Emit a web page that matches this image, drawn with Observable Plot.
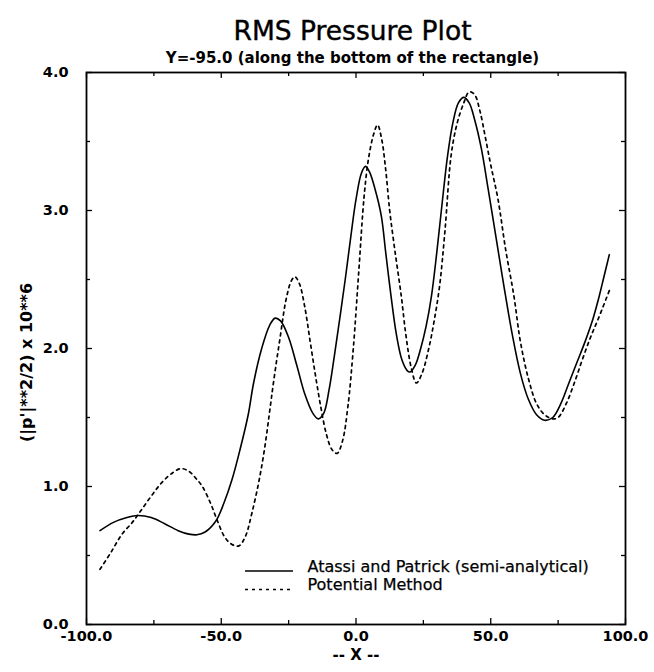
<!DOCTYPE html>
<html>
<head>
<meta charset="utf-8">
<script src="https://cdn.jsdelivr.net/npm/d3@7"></script>
<script src="https://cdn.jsdelivr.net/npm/@observablehq/plot@0.6"></script>
<style>
  body { margin: 0; background: #fff; }
  #chart svg { display: block; }
</style>
</head>
<body>
<div id="chart"></div>
<script>
// RMS pressure along Y = -95.0 (bottom edge of the rectangle)
const titleText = "RMS Pressure Plot";
const subtitleText = "Y=-95.0 (along the bottom of the rectangle)";
const xLabel = "-- X --";
const yLabel = "(|p'|**2/2) x 10**6";
const seriesNames = ["Atassi and Patrick (semi-analytical)", "Potential Method"];

// Atassi and Patrick (semi-analytical) — solid curve
const atassiX = [-95, -90, -85, -81, -76, -71, -66, -62, -59, -56, -52, -49, -46, -43, -40, -38, -35, -32, -30, -28, -25, -22, -19, -16, -14, -12, -10, -8, -6, -4, -2, 0, 2, 3.5, 5, 7, 9.4, 11, 13, 15, 17, 19, 20, 22, 24, 26, 28, 30, 32, 34, 36, 38, 40, 42, 44, 46.5, 49, 52, 54.9, 58, 61, 64, 67, 70, 73, 76, 79, 82, 85, 88, 90, 92, 94];
const atassiY = [0.68, 0.74, 0.775, 0.79, 0.775, 0.73, 0.68, 0.655, 0.65, 0.67, 0.75, 0.88, 1.05, 1.27, 1.52, 1.75, 2.0, 2.17, 2.22, 2.2, 2.08, 1.88, 1.67, 1.53, 1.49, 1.53, 1.7, 1.95, 2.22, 2.5, 2.8, 3.08, 3.27, 3.32, 3.28, 3.16, 2.96, 2.7, 2.38, 2.1, 1.92, 1.84, 1.83, 1.88, 2.0, 2.16, 2.38, 2.7, 3.06, 3.4, 3.64, 3.78, 3.82, 3.78, 3.66, 3.45, 3.16, 2.8, 2.45, 2.1, 1.82, 1.63, 1.52, 1.48, 1.5, 1.6, 1.75, 1.9, 2.05, 2.22, 2.36, 2.52, 2.68];

// Potential Method — dotted curve
const potentialX = [-95, -91, -87, -83, -80, -76, -72, -68, -65, -62, -59, -57, -54, -51.6, -48.6, -46, -43.4, -41, -38.6, -36, -33.8, -32, -30.5, -28, -26, -24, -22.7, -21, -19, -17, -15, -13, -11, -9, -7, -5, -3, -1, 1, 3, 4.6, 6.5, 8, 9.5, 11, 12.5, 14.5, 16.8, 18.5, 20.5, 22.4, 24.5, 27, 29, 31, 33, 35.3, 37.5, 40, 42, 44, 46, 48, 50, 52.7, 55.5, 58.6, 61, 64, 67, 70, 73, 75, 78, 81, 84, 87, 90, 94];
const potentialY = [0.40, 0.52, 0.65, 0.74, 0.82, 0.93, 1.03, 1.1, 1.13, 1.11, 1.05, 1.0, 0.88, 0.76, 0.63, 0.58, 0.57, 0.64, 0.81, 1.04, 1.29, 1.55, 1.77, 2.1, 2.35, 2.49, 2.52, 2.47, 2.3, 2.05, 1.8, 1.57, 1.38, 1.27, 1.24, 1.33, 1.58, 2.0, 2.55, 3.1, 3.37, 3.55, 3.62, 3.52, 3.3, 3.0, 2.7, 2.38, 2.1, 1.86, 1.75, 1.82, 2.0, 2.2, 2.45, 2.85, 3.4, 3.63, 3.78, 3.86, 3.84, 3.72, 3.53, 3.33, 3.08, 2.72, 2.38, 2.05, 1.78, 1.6, 1.52, 1.49, 1.5, 1.6, 1.75, 1.92, 2.08, 2.22, 2.42];

// Axis ticks
const xTicks = [-100, -50, 0, 50, 100];
const xMinorTicks = [-75, -25, 25, 75];
const yTicks = [0, 1, 2, 3, 4];
const yMinorTicks = [0.5, 1.5, 2.5, 3.5];

const atassi = atassiX.map((x, i) => ({x, y: atassiY[i]}));
const potential = potentialX.map((x, i) => ({x, y: potentialY[i]}));

const W = 654, H = 672;
const mL = 86, mR = 29, mT = 72, mB = 48;
const plotW = W - mL - mR, plotH = H - mT - mB;
const font = "'DejaVu Sans', sans-serif";
const dots = "3,4";
const majorLen = 6, minorLen = 4;
const legendRow1 = -53, legendRow2 = -34.5;

const chart = Plot.plot({
  width: W,
  height: H,
  marginLeft: mL,
  marginRight: mR,
  marginTop: mT,
  marginBottom: mB,
  style: {fontFamily: font, background: "#fff", color: "#000", overflow: "visible"},
  x: {domain: [-100, 100]},
  y: {domain: [0, 4]},
  marks: [
    // inward ticks on all four sides
    Plot.ruleX(xTicks, {x: d => d, insetTop: plotH - majorLen, stroke: "#000", strokeWidth: 1.3}),
    Plot.ruleX(xMinorTicks, {x: d => d, insetTop: plotH - minorLen, stroke: "#000", strokeWidth: 1.3}),
    Plot.ruleX(xTicks, {x: d => d, insetBottom: plotH - majorLen, stroke: "#000", strokeWidth: 1.3}),
    Plot.ruleX(xMinorTicks, {x: d => d, insetBottom: plotH - minorLen, stroke: "#000", strokeWidth: 1.3}),
    Plot.ruleY(yTicks, {y: d => d, insetRight: plotW - majorLen, stroke: "#000", strokeWidth: 1.3}),
    Plot.ruleY(yMinorTicks, {y: d => d, insetRight: plotW - minorLen, stroke: "#000", strokeWidth: 1.3}),
    Plot.ruleY(yTicks, {y: d => d, insetLeft: plotW - majorLen, stroke: "#000", strokeWidth: 1.3}),
    Plot.ruleY(yMinorTicks, {y: d => d, insetLeft: plotW - minorLen, stroke: "#000", strokeWidth: 1.3}),
    Plot.frame({stroke: "#000", strokeWidth: 1.8}),
    // tick labels
    Plot.axisX(xTicks, {tickSize: 0, tickPadding: 6, tickFormat: d => d.toFixed(1), fontSize: 14.5, fontWeight: "bold", label: null}),
    Plot.axisY(yTicks, {tickSize: 0, tickPadding: 18, tickFormat: d => d.toFixed(1), fontSize: 14.5, fontWeight: "bold", label: null}),
    // curves
    Plot.line(atassi, {x: "x", y: "y", curve: "catmull-rom", stroke: "#000", strokeWidth: 1.6}),
    Plot.line(potential, {x: "x", y: "y", curve: "catmull-rom", stroke: "#000", strokeWidth: 1.7, strokeDasharray: dots}),
    // titles and axis labels
    Plot.text([titleText], {text: d => d, frameAnchor: "top", dx: -3.5, dy: -51, fontSize: 26.5, fill: "#000", stroke: "#000", strokeWidth: 0.4}),
    Plot.text([subtitleText], {text: d => d, frameAnchor: "top", dx: -3.5, dy: -20, fontSize: 15, fontWeight: "bold", fill: "#000"}),
    Plot.text([xLabel], {text: d => d, frameAnchor: "bottom", dy: 35, fontSize: 15, fontWeight: "bold", fill: "#000"}),
    Plot.text([yLabel], {text: d => d, frameAnchor: "left", textAnchor: "middle", dx: -60, dy: 14, rotate: -90, fontSize: 16, fontWeight: "bold", fill: "#000"}),
    // legend labels
    Plot.text([seriesNames[0]], {text: d => d, frameAnchor: "bottom-left", dx: 221, dy: legendRow1, textAnchor: "start", fontSize: 16, fill: "#000", stroke: "#000", strokeWidth: 0.25}),
    Plot.text([seriesNames[1]], {text: d => d, frameAnchor: "bottom-left", dx: 221, dy: legendRow2, textAnchor: "start", fontSize: 16, fill: "#000", stroke: "#000", strokeWidth: 0.25})
  ]
});

// legend line samples
const svg = d3.select(chart);
const legend = svg.append("g").attr("stroke", "#000").attr("fill", "none");
legend.append("line")
  .attr("x1", mL + 159).attr("x2", mL + 207)
  .attr("y1", H - mB + legendRow1).attr("y2", H - mB + legendRow1)
  .attr("stroke-width", 1.6);
legend.append("line")
  .attr("x1", mL + 159).attr("x2", mL + 207)
  .attr("y1", H - mB + legendRow2).attr("y2", H - mB + legendRow2)
  .attr("stroke-width", 1.7).attr("stroke-dasharray", dots);

document.getElementById("chart").appendChild(chart);
</script>
</body>
</html>
